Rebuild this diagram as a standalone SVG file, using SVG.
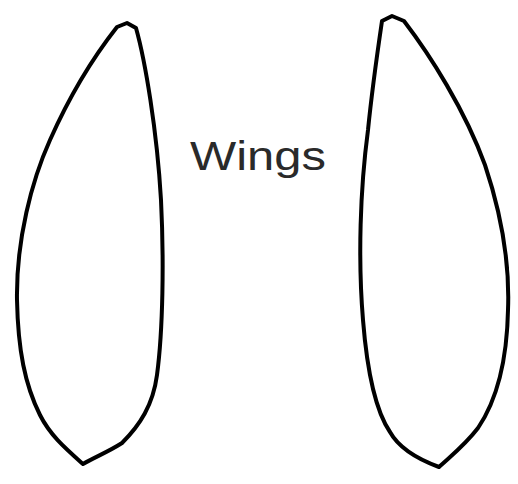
<svg xmlns="http://www.w3.org/2000/svg" width="518" height="484" viewBox="0 0 518 484">
<style>
.wing{fill:none;stroke:#000;stroke-width:4;stroke-linejoin:round}
.lbl{font-family:"Liberation Sans",Arial,sans-serif;font-size:41px;fill:#2a2a2a}
</style>
<rect width="518" height="484" fill="#fff"/>
<g id="left-wing">
<path class="wing" d="M117,27 L127,23 L136,28 C145,60 157,130 161,200 C164,260 163,330 157,375 C153,405 140,425 122,443 C108,452 95,457 83,464 C65,448 50,435 40,415 C25,385 18,350 17,300 C16,240 32,180 50,140 C70,95 95,55 117,27 Z"/>
</g>
<g id="right-wing">
<path class="wing" d="M382,21 L392,16 L404,21 C430,55 465,110 485,165 C500,210 510,260 508,310 C507,360 497,400 478,428 C465,445 452,455 439,467 C420,460 400,450 390,432 C375,410 367,370 363,320 C358,260 360,190 368,130 C372,90 377,55 382,21 Z"/>
</g>
<g id="label">
<text class="lbl" x="190" y="170" textLength="136" lengthAdjust="spacingAndGlyphs">Wings</text>
</g>
<g id="connectors"/>
</svg>
